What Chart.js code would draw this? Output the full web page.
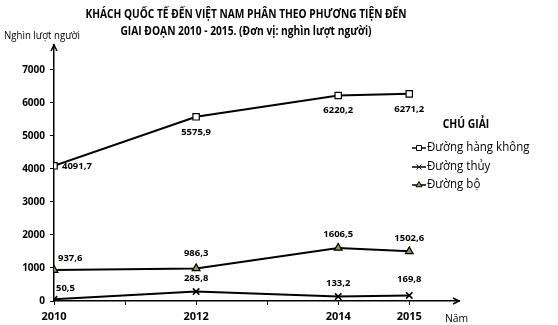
<!DOCTYPE html>
<html>
<head>
<meta charset="utf-8">
<script src="https://cdn.jsdelivr.net/npm/chart.js@4/dist/chart.umd.min.js"></script>
<style>
  html, body { margin: 0; padding: 0; background: #fff; }
  #wrap { width: 558px; height: 325px; position: relative; }
</style>
</head>
<body>
<div id="wrap"><canvas id="chart" width="558" height="325"></canvas></div>
<script>
const years = [2010, 2012, 2014, 2015];
const airValues = [4091.7, 5575.9, 6220.2, 6271.2];
const waterValues = [50.5, 285.8, 133.2, 169.8];
const roadValues = [937.6, 986.3, 1606.5, 1502.6];
const yTicks = [0, 1000, 2000, 3000, 4000, 5000, 6000, 7000];
const xTicks = [2010, 2011, 2012, 2013, 2014, 2015];
const xLabels = [2010, 2012, 2014, 2015];

const seriesNames = ['Đường hàng không', 'Đường thủy', 'Đường bộ'];
const FONT = "'Open Sans', sans-serif";
const ROAD_GREEN = '#8c9b3e';

function fmt(v) {
    return v.toFixed(1).replace('.', ',');
}

function toPoints(values) {
    return values.map((v, i) => ({ x: years[i], y: v }));
}

// narrow text, drawn squeezed horizontally around (x, y)
function narrowText(ctx, text, x, y, squeeze) {
    ctx.save();
    ctx.translate(x, y);
    ctx.scale(squeeze, 1);
    ctx.fillText(text, 0, 0);
    ctx.restore();
}

// where each value label sits relative to its point
const labelOffsets = [
    [[8, 0, 'left'], [0, 15, 'center'], [0, 15, 'center'], [0, 15, 'center']],
    [[2, -11, 'left'], [0, -13, 'center'], [0, -13, 'center'], [0, -16, 'center']],
    [[4, -12, 'left'], [0, -15, 'center'], [0, -14, 'center'], [0, -13, 'center']]
];

const decorations = {
    id: 'decorations',
    afterDraw(chart) {
        const ctx = chart.ctx;
        const area = chart.chartArea;
        ctx.save();
        ctx.fillStyle = '#000';
        ctx.strokeStyle = '#000';

        // title
        ctx.font = 'bold 11.5px ' + FONT;
        ctx.textAlign = 'center';
        ctx.textBaseline = 'middle';
        narrowText(ctx, 'KHÁCH QUỐC TẾ ĐẾN VIỆT NAM PHÂN THEO PHƯƠNG TIỆN ĐẾN', 246, 15, 0.885);
        narrowText(ctx, 'GIAI ĐOẠN 2010 - 2015. (Đơn vị: nghìn lượt người)', 246, 32, 0.89);

        // axis names
        ctx.font = '11.5px ' + FONT;
        ctx.textAlign = 'left';
        narrowText(ctx, 'Nghìn lượt người', 4, 36, 0.84);
        narrowText(ctx, 'Năm', 445, 319, 0.9);

        // arrow heads
        ctx.lineWidth = 1.5;
        ctx.beginPath();
        ctx.moveTo(area.left - 3, area.top + 6);
        ctx.lineTo(area.left, area.top);
        ctx.lineTo(area.left + 3, area.top + 6);
        ctx.moveTo(area.right - 6, area.bottom - 3);
        ctx.lineTo(area.right, area.bottom);
        ctx.lineTo(area.right - 6, area.bottom + 3);
        ctx.stroke();

        // value labels
        ctx.font = 'bold 9.5px ' + FONT;
        chart.data.datasets.forEach((ds, di) => {
            const meta = chart.getDatasetMeta(di);
            meta.data.forEach((pt, i) => {
                const off = labelOffsets[di][i];
                ctx.textAlign = off[2];
                ctx.fillText(fmt(ds.data[i].y), pt.x + off[0], pt.y + off[1]);
            });
        });

        // legend
        ctx.font = 'bold 11.5px ' + FONT;
        ctx.textAlign = 'center';
        narrowText(ctx, 'CHÚ GIẢI', 466, 125, 0.9);
        ctx.font = '12px ' + FONT;
        const rows = [148, 167, 185];
        chart.data.datasets.forEach((ds, di) => {
            const y = rows[di];
            ctx.lineWidth = 1.5;
            ctx.strokeStyle = '#000';
            ctx.beginPath();
            ctx.moveTo(412, y);
            ctx.lineTo(426, y);
            ctx.stroke();
            ctx.fillStyle = ds.pointBackgroundColor;
            ctx.lineWidth = 1;
            Chart.helpers.drawPoint(ctx, {
                pointStyle: ds.pointStyle,
                radius: 3.5,
                borderWidth: 1
            }, 419, y);
            ctx.fillStyle = '#000';
            ctx.textAlign = 'left';
            narrowText(ctx, ds.label, 427, y, 0.96);
        });
        ctx.restore();
    }
};

function series(label, values, style, fill, radius, markerWidth) {
    return {
        label: label,
        data: toPoints(values),
        borderColor: '#000',
        borderWidth: 2,
        pointStyle: style,
        pointRadius: radius,
        pointBackgroundColor: fill,
        pointBorderColor: '#000',
        pointBorderWidth: markerWidth,
        tension: 0
    };
}

new Chart(document.getElementById('chart'), {
    type: 'line',
    data: {
        datasets: [
            series(seriesNames[0], airValues, 'rect', '#fff', 4.5, 1.2),
            series(seriesNames[1], waterValues, 'crossRot', '#000', 4.5, 1.6),
            series(seriesNames[2], roadValues, 'triangle', ROAD_GREEN, 4.5, 1.2)
        ]
    },
    options: {
        responsive: false,
        animation: false,
        layout: { padding: { left: 0, top: 45, right: 99, bottom: 0 } },
        plugins: { legend: { display: false }, tooltip: { enabled: false } },
        scales: {
            x: {
                type: 'linear',
                min: 2010,
                max: 2015.7,
                afterFit: scale => { scale.height = 24; },
                afterBuildTicks: scale => {
                    scale.ticks = xTicks.map(v => ({ value: v }));
                },
                grid: {
                    drawOnChartArea: false,
                    color: '#000',
                    tickLength: 4,
                    lineWidth: 1
                },
                border: { display: true, color: '#000', width: 1.5 },
                ticks: {
                    autoSkip: false,
                    maxRotation: 0,
                    padding: 5,
                    color: '#000',
                    font: { family: FONT, size: 11, weight: 'bold' },
                    callback: v => xLabels.includes(v) ? String(v) : ''
                }
            },
            y: {
                min: 0,
                max: 7750,
                afterFit: scale => { scale.width = 54; },
                afterBuildTicks: scale => {
                    scale.ticks = yTicks.map(v => ({ value: v }));
                },
                grid: {
                    drawOnChartArea: false,
                    color: '#000',
                    tickLength: 4,
                    lineWidth: 1
                },
                border: { display: true, color: '#000', width: 1.5 },
                ticks: {
                    padding: 5,
                    color: '#000',
                    font: { family: FONT, size: 10, weight: 'bold' },
                    callback: v => String(v)
                }
            }
        }
    },
    plugins: [decorations]
});
</script>
</body>
</html>
